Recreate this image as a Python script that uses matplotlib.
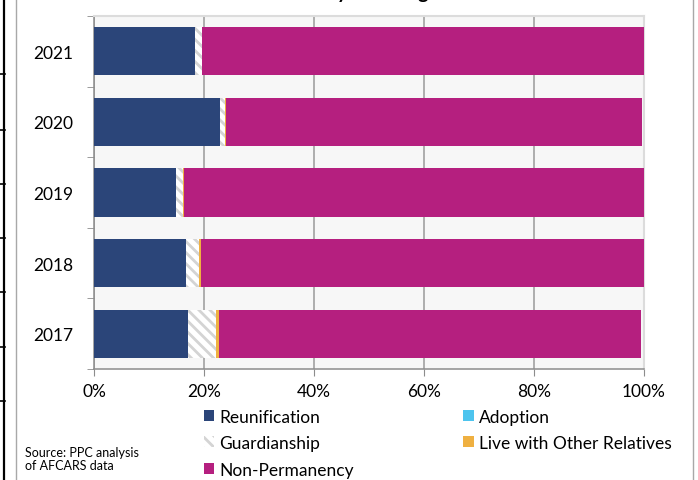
import matplotlib.pyplot as plt
import numpy as np
from matplotlib.patches import Patch
from matplotlib.lines import Line2D

plt.rcParams['font.family'] = ['Lato', 'DejaVu Sans']
plt.rcParams['hatch.linewidth'] = 2.0

# --- Data (percent of exits) ---
years = ['2017', '2018', '2019', '2020', '2021']
reunification = [17.1, 16.8, 14.9, 22.9, 18.4]
adoption = [0.0, 0.0, 0.0, 0.0, 0.0]
guardianship = [5.0, 2.3, 1.3, 0.9, 1.2]
live_with_relatives = [0.6, 0.4, 0.1, 0.2, 0.0]
non_permanency = [76.8, 80.5, 83.7, 75.7, 80.4]

series = [
    ('Reunification', reunification, '#2b4579', None),
    ('Adoption', adoption, '#4dc4ee', None),
    ('Guardianship', guardianship, 'white', '\\\\\\'),
    ('Live with Other Relatives', live_with_relatives, '#efb041', None),
    ('Non-Permanency', non_permanency, '#b51f7f', None),
]

fig = plt.figure(figsize=(6.98, 4.81), dpi=100)
ax = fig.add_axes([94 / 698, 1 - 370 / 481, 550 / 698, 353 / 481])
ax.set_facecolor('#f7f7f7')

y = np.arange(len(years))
left = np.zeros(len(years))
for name, vals, color, hatch in series:
    vals = np.array(vals)
    if hatch:
        ax.barh(y, vals, left=left, height=0.68, color=color, hatch=hatch,
                edgecolor='#d4d4d4', linewidth=0, zorder=3)
    else:
        ax.barh(y, vals, left=left, height=0.68, color=color,
                edgecolor='none', zorder=3)
    left += vals

ax.set_xlim(0, 100)
ax.set_ylim(-0.5, len(years) - 0.5)
ax.set_xticks(np.arange(0, 101, 20))
ax.set_xticklabels([f'{v}%' for v in range(0, 101, 20)], fontsize=12.5)
ax.set_yticks(y)
ax.set_yticklabels(years, fontsize=12.5)
ax.set_yticks(np.arange(-0.5, len(years), 1), minor=True)
ax.tick_params(axis='y', which='major', length=0, pad=15)
ax.tick_params(axis='y', which='minor', length=5, color='#8c8c8c', direction='out')
ax.tick_params(axis='x', length=5, color='#8c8c8c', direction='out', pad=5)
ax.grid(axis='x', color='#9a9a9a', linewidth=1.1, zorder=1)
ax.set_axisbelow(True)
for s in ['left', 'bottom']:
    ax.spines[s].set_color('#8c8c8c')
    ax.spines[s].set_linewidth(1.1)
for s in ['top', 'right']:
    ax.spines[s].set_color('#dcdcdc')
    ax.spines[s].set_linewidth(1.5)

# --- Legend ---
handles = [
    Patch(facecolor='#2b4579', edgecolor='none', label='Reunification'),
    Patch(facecolor='white', hatch='\\\\\\', edgecolor='#d4d4d4', linewidth=0, label='Guardianship'),
    Patch(facecolor='#b51f7f', edgecolor='none', label='Non-Permanency'),
    Patch(facecolor='#4dc4ee', edgecolor='none', label='Adoption'),
    Patch(facecolor='#efb041', edgecolor='none', label='Live with Other Relatives'),
]
fig.legend(handles=handles, ncol=2, loc='upper left', bbox_to_anchor=(195 / 698, 1 - 401 / 481),
           frameon=False, fontsize=12.5, handlelength=0.6, handleheight=0.6,
           handletextpad=0.3, columnspacing=6.3, labelspacing=0.6, borderpad=0)

# --- Source note ---
fig.text(25 / 698, 1 - 453 / 481, 'Source: PPC analysis', fontsize=9, va='center')
fig.text(25 / 698, 1 - 466 / 481, 'of AFCARS data', fontsize=9, va='center')

# --- Clipped title at the very top ---
fig.text(347 / 698, 1.0 + 1 / 481, 'Exits from Care by Discharge Reason',
         fontsize=14, fontweight='bold', ha='center', va='baseline')

# --- Page edge decorations (table lines of the source document) ---
fig.add_artist(Line2D([3.5 / 698, 3.5 / 698], [0, 1], color='black', linewidth=1.6,
                      transform=fig.transFigure))
fig.add_artist(Line2D([16 / 698, 16 / 698], [0, 1], color='#a8a8a8', linewidth=1.0,
                      transform=fig.transFigure))
for yy in [75, 131, 185, 239, 293, 348, 402]:
    fig.add_artist(Line2D([0, 5 / 698], [1 - yy / 481, 1 - yy / 481], color='black',
                          linewidth=1.2, transform=fig.transFigure))
fig.add_artist(Line2D([693 / 698, 693 / 698], [0, 1], color='#a8a8a8', linewidth=1.0,
                      transform=fig.transFigure))

fig.savefig('out.png', dpi=100)
